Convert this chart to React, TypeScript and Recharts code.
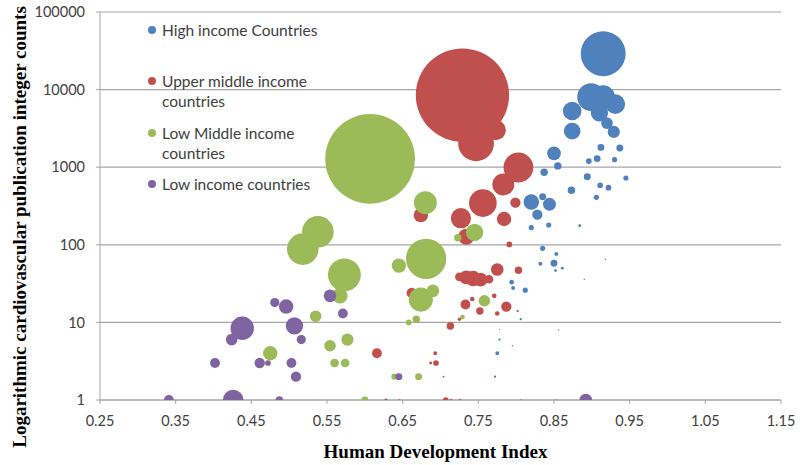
import React from 'react';
import { ScatterChart, Scatter, XAxis, YAxis, ZAxis, CartesianGrid, Label } from 'recharts';

type Pt = { hdi: number; pubs: number; pop: number };

const mk = (rows: number[][]): Pt[] => rows.map(([hdi, pubs, pop]) => ({ hdi, pubs, pop }));

// [HDI, publications, bubble size (population, millions)]
const highIncome: Pt[] = mk([
  [0.915, 29000, 311],
  [0.899, 8000, 118],
  [0.915, 8000, 85],
  [0.931, 6500, 60],
  [0.874, 5300, 53],
  [0.910, 5000, 46],
  [0.920, 3700, 21],
  [0.929, 2850, 23],
  [0.874, 2920, 43],
  [0.912, 1800, 7.4],
  [0.937, 1770, 7.4],
  [0.907, 1290, 7.4],
  [0.896, 1200, 5],
  [0.930, 1250, 4.1],
  [0.850, 1510, 29],
  [0.855, 1040, 8.5],
  [0.837, 860, 8.5],
  [0.894, 755, 7.4],
  [0.945, 726, 4.1],
  [0.911, 585, 5],
  [0.922, 545, 5],
  [0.873, 504, 8.5],
  [0.906, 409, 4.1],
  [0.820, 356, 37],
  [0.835, 417, 7.4],
  [0.844, 333, 26],
  [0.828, 245, 16.5],
  [0.820, 167, 4.1],
  [0.843, 180, 4.1],
  [0.884, 176, 1.3],
  [0.835, 90, 4.1],
  [0.853, 76, 2.4],
  [0.832, 57, 2.4],
  [0.850, 58, 7.4],
  [0.852, 46.5, 1.3],
  [0.861, 50, 1.3],
  [0.918, 65, 0.3],
  [0.890, 36, 0.3],
  [0.794, 33, 3.3],
  [0.796, 27.7, 2.4],
  [0.812, 26, 4.1],
  [0.806, 11, 0.8],
  [0.778, 6, 0.8],
  [0.795, 5, 0.3],
  [0.775, 4, 2.4],
  [0.778, 8.1, 0.2],
  [0.856, 8, 0.3],
  [0.806, 1, 0.4],
  [0.852, 1, 0.4],
]);

const upperMiddle: Pt[] = mk([
  [0.729, 8500, 1340],
  [0.747, 2030, 197],
  [0.773, 3000, 63],
  [0.803, 990, 137],
  [0.783, 600, 74],
  [0.756, 345, 118],
  [0.727, 220, 63],
  [0.734, 127, 40],
  [0.784, 215, 32],
  [0.799, 350, 16.5],
  [0.674, 241, 32],
  [0.791, 101, 5],
  [0.725, 38.6, 11.5],
  [0.734, 38, 29],
  [0.743, 36.7, 37],
  [0.753, 35.6, 29],
  [0.764, 36, 11.5],
  [0.775, 48, 24.5],
  [0.803, 47, 8.5],
  [0.662, 24, 16.5],
  [0.733, 17, 15],
  [0.742, 20, 3.3],
  [0.752, 14, 8.5],
  [0.771, 22, 3.3],
  [0.787, 16, 16.5],
  [0.775, 13, 3.3],
  [0.802, 14, 0.8],
  [0.725, 11, 1.8],
  [0.713, 9, 8.5],
  [0.616, 4, 15],
  [0.693, 4, 2.4],
  [0.694, 3, 5],
  [0.687, 3, 1.3],
  [0.704, 2, 0.5],
  [0.772, 2, 0.8],
  [0.628, 1, 1.3],
  [0.646, 1, 0.5],
  [0.707, 1, 5],
  [0.714, 1, 0.8],
  [0.726, 1, 0.8],
]);

const lowMiddle: Pt[] = mk([
  [0.607, 1280, 1240],
  [0.538, 147, 154],
  [0.518, 88, 154],
  [0.573, 41, 166],
  [0.567, 22, 37],
  [0.535, 12, 20.6],
  [0.554, 5, 20.6],
  [0.475, 4, 31.7],
  [0.560, 3, 11.5],
  [0.574, 3, 11.5],
  [0.577, 6, 22.5],
  [0.462, 3, 11.5],
  [0.639, 2, 5.6],
  [0.671, 2, 7.4],
  [0.600, 1, 7.4],
  [0.463, 1, 0.3],
  [0.539, 1, 0.3],
  [0.645, 54, 31.7],
  [0.681, 66, 249],
  [0.680, 349, 81],
  [0.674, 19.7, 90],
  [0.690, 25.6, 24.5],
  [0.668, 11, 8.5],
  [0.658, 10, 5],
  [0.745, 145, 46],
  [0.723, 123, 8.5],
  [0.758, 19, 20.6],
  [0.729, 11.7, 3.3],
]);

const lowIncome: Pt[] = mk([
  [0.481, 18, 13],
  [0.496, 16, 32],
  [0.507, 9, 46],
  [0.516, 6, 13],
  [0.438, 8.4, 84],
  [0.424, 6, 20.6],
  [0.402, 3, 15],
  [0.461, 3, 16.5],
  [0.472, 3, 5],
  [0.503, 3, 15],
  [0.509, 2, 16.5],
  [0.341, 1, 15],
  [0.426, 1, 66],
  [0.487, 1, 8.5],
  [0.554, 22, 24.5],
  [0.571, 13, 15],
  [0.645, 2, 7.4],
  [0.892, 1, 24.5],
]);

const seriesNames = [
  'High income Countries',
  'Upper middle income countries',
  'Low Middle income countries',
  'Low income countries',
];
const seriesData = [highIncome, upperMiddle, lowMiddle, lowIncome];
const seriesColors = ['#4F81BD', '#C0504D', '#9BBB59', '#8064A2'];

const xTicks = [0.25, 0.35, 0.45, 0.55, 0.65, 0.75, 0.85, 0.95, 1.05, 1.15];
const yTicks = [1, 10, 100, 1000, 10000, 100000];
const xTitle = 'Human Development Index';
const yTitle = 'Logarithmic cardiovascular publication integer counts';

const W = 800;
const H = 465;
const tickFont = { fontFamily: 'Lato, "Open Sans", sans-serif', fontSize: 14.5, fill: '#404040' };
const gridColor = '#A6A6A6';
const titleStyle = { fontFamily: '"Liberation Serif", "Times New Roman", serif', fontWeight: 700, fontSize: 19, fill: '#000' };

const YTitle = (props: any) => {
  const vb = props.viewBox || {};
  const cx = 19;
  const cy = vb.y + vb.height / 2 + 21;
  return (
    <text
      x={cx}
      y={cy}
      transform={`rotate(-90, ${cx}, ${cy})`}
      textAnchor="middle"
      dominantBaseline="central"
      style={titleStyle}
    >
      {yTitle}
    </text>
  );
};

const XTitle = (props: any) => {
  const vb = props.viewBox || {};
  const cx = vb.x + vb.width / 2 - 5;
  const cy = 451;
  return (
    <text x={cx} y={cy} textAnchor="middle" dominantBaseline="central" style={titleStyle}>
      {xTitle}
    </text>
  );
};

export default function App() {
  return (
    <div style={{ position: 'absolute', left: 0, top: 0, width: W, height: H, background: '#fff' }}>
      <ScatterChart width={W} height={H} margin={{ top: 12, right: 19, bottom: 0, left: 0 }}>
        <CartesianGrid vertical={false} stroke={gridColor} strokeWidth={1.2} />
        <XAxis
          type="number"
          dataKey="hdi"
          domain={[0.25, 1.15]}
          ticks={xTicks}
          tickFormatter={(v: number) => v.toFixed(2)}
          height={65}
          tickSize={4}
          tickMargin={12}
          stroke={gridColor}
          tick={tickFont}
          interval={0}
        >
          <Label content={<XTitle />} />
        </XAxis>
        <YAxis
          type="number"
          dataKey="pubs"
          scale="log"
          domain={[1, 100000]}
          ticks={yTicks}
          width={100}
          tickSize={4}
          tickMargin={11}
          stroke={gridColor}
          tick={tickFont}
          interval={0}
          allowDataOverflow
        >
          <Label content={<YTitle />} />
        </YAxis>
        <ZAxis type="number" dataKey="pop" domain={[0, 1000]} range={[0, 6837]} scale="linear" />
        {seriesData.map((d, i) => (
          <Scatter
            key={seriesNames[i]}
            name={seriesNames[i]}
            data={d}
            fill={seriesColors[i]}
            isAnimationActive={false}
          />
        ))}
      </ScatterChart>
      <div style={{ position: 'absolute', left: 148, top: 20, fontFamily: tickFont.fontFamily, fontSize: 15.5, color: '#404040' }}>
        {seriesNames.map((n, i) => (
          <div key={n} style={{ display: 'flex', alignItems: 'flex-start', height: 51.3 }}>
            <div style={{ width: 8, height: 8, borderRadius: 4, background: seriesColors[i], marginTop: 6, flex: 'none' }} />
            <div style={{ marginLeft: 6, width: 180, lineHeight: '20px' }}>{n}</div>
          </div>
        ))}
      </div>
    </div>
  );
}
